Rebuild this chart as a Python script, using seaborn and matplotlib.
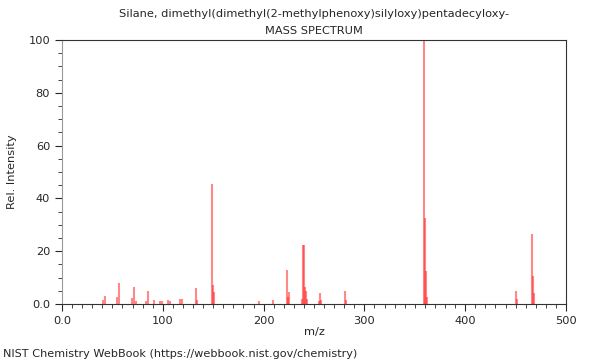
import pandas as pd
import seaborn as sns
import matplotlib.pyplot as plt
from matplotlib.ticker import MultipleLocator

# peak list
mz = [41, 43, 55, 57, 69, 71, 73, 83, 85, 91, 97, 99, 105, 107, 117, 119,
      133, 134, 149, 150, 151, 195, 209, 223, 224, 225, 238, 239, 240, 241,
      242, 243, 255, 256, 257, 281, 282, 359, 360, 361, 362, 450, 451,
      466, 467, 468]
intensity = [1.5, 3, 2.8, 7.8, 2.2, 6.3, 1, 1.2, 5, 1.5, 1, 1, 1.5, 1, 2, 2,
             6, 1.5, 45.5, 7.2, 4.7, 1, 1.5, 12.8, 2.5, 4.5, 2, 22.3, 22.3, 6.5,
             5, 2, 1, 4, 1.5, 5, 1.5, 100, 32.5, 12.5, 2.5, 5, 2,
             26.5, 10.5, 4]

title = "Silane, dimethyl(dimethyl(2-methylphenoxy)silyloxy)pentadecyloxy-\nMASS SPECTRUM"
footer = "NIST Chemistry WebBook (https://webbook.nist.gov/chemistry)"

df = pd.DataFrame({"mz": mz, "intensity": intensity})

sns.set_style("ticks")
plt.rcParams["font.family"] = ["DejaVu Sans"]

fig = plt.figure(figsize=(6, 3.6), dpi=100)
ax = fig.add_axes([0.1033, 0.1556, 0.84, 0.7333])

ax.vlines(df["mz"], 0, df["intensity"], color="#ff2828", alpha=0.55, linewidth=1.5)

ax.set_xlim(0, 500)
ax.set_ylim(0, 100)
ax.xaxis.set_minor_locator(MultipleLocator(10))
ax.yaxis.set_minor_locator(MultipleLocator(5))
ax.set_xticks([0, 100, 200, 300, 400, 500], ["0.0", "100", "200", "300", "400", "500"])
ax.set_yticks([0, 20, 40, 60, 80, 100], ["0.0", "20", "40", "60", "80", "100"])
ax.tick_params(which="major", length=5, labelsize=8.2, width=0.8)
ax.tick_params(which="minor", length=3, width=0.6)

for s in ax.spines.values():
    s.set_linewidth(0.8)
    s.set_color("#333333")
ax.spines["left"].set_color("#999999")

ax.set_xlabel("m/z", fontsize=8.2, labelpad=1)
ax.set_ylabel("Rel. Intensity", fontsize=8.2, labelpad=8)
ax.set_title(title, fontsize=8.2, linespacing=1.9, pad=4)

fig.text(0.005, 0.003, footer, fontsize=8.1, ha="left", va="bottom")

fig.savefig("out.png", dpi=100)
